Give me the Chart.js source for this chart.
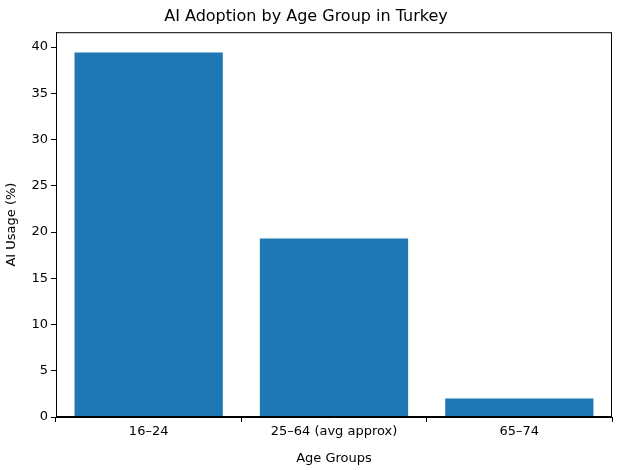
<!DOCTYPE html>
<html><head><script src="https://cdn.jsdelivr.net/npm/chart.js"></script>
<style>body{margin:0;background:#fff}</style></head><body>
<div style="width:630px;height:470px"><canvas id="c"></canvas></div>
<script>
const categories = ["16–24", "25–64 (avg approx)", "65–74"];
const usage = [39.4, 19.3, 2.0];
const yTicks = [0, 5, 10, 15, 20, 25, 30, 35, 40];
const F = "DejaVu Sans";
const frame = {id:'frame', afterDraw(c){const a=c.chartArea,x=c.ctx;x.save();x.strokeStyle='#000';x.lineWidth=1;x.strokeRect(a.left+0.5,a.top+0.5,a.right-a.left-1,a.bottom-a.top-1);x.restore();}};
new Chart(document.getElementById('c'), {
  type:'bar',
  data:{labels:categories, datasets:[{data:usage, backgroundColor:'#1f77b4', categoryPercentage:0.8, barPercentage:1}]},
  plugins:[frame],
  options:{responsive:true, maintainAspectRatio:false, animation:false,
    layout:{padding:{left:0,right:18,top:0,bottom:0}},
    plugins:{legend:{display:false}, tooltip:{enabled:false},
      title:{display:true,text:'AI Adoption by Age Group in Turkey',color:'#000',font:{family:F,size:16,weight:'normal'},padding:{top:7,bottom:6}}},
    scales:{
      x:{grid:{display:true,drawOnChartArea:false,tickLength:5,color:'#000'},border:{color:'#000'},
        ticks:{color:'#000',font:{family:F,size:13},padding:2},
        title:{display:true,text:'Age Groups',color:'#000',font:{family:F,size:13},padding:{top:2}},
        afterFit(s){s.height=53;}},
      y:{min:0,max:41.6,grid:{display:true,drawOnChartArea:false,tickLength:5,color:'#000'},border:{color:'#000'},
        afterBuildTicks(s){s.ticks=yTicks.map(v=>({value:v}));},
        ticks:{color:'#000',font:{family:F,size:13},padding:3},
        title:{display:true,text:'AI Usage (%)',color:'#000',font:{family:F,size:13},padding:{bottom:4}},
        afterFit(s){s.width=56;}}
    }}
});
</script></body></html>
